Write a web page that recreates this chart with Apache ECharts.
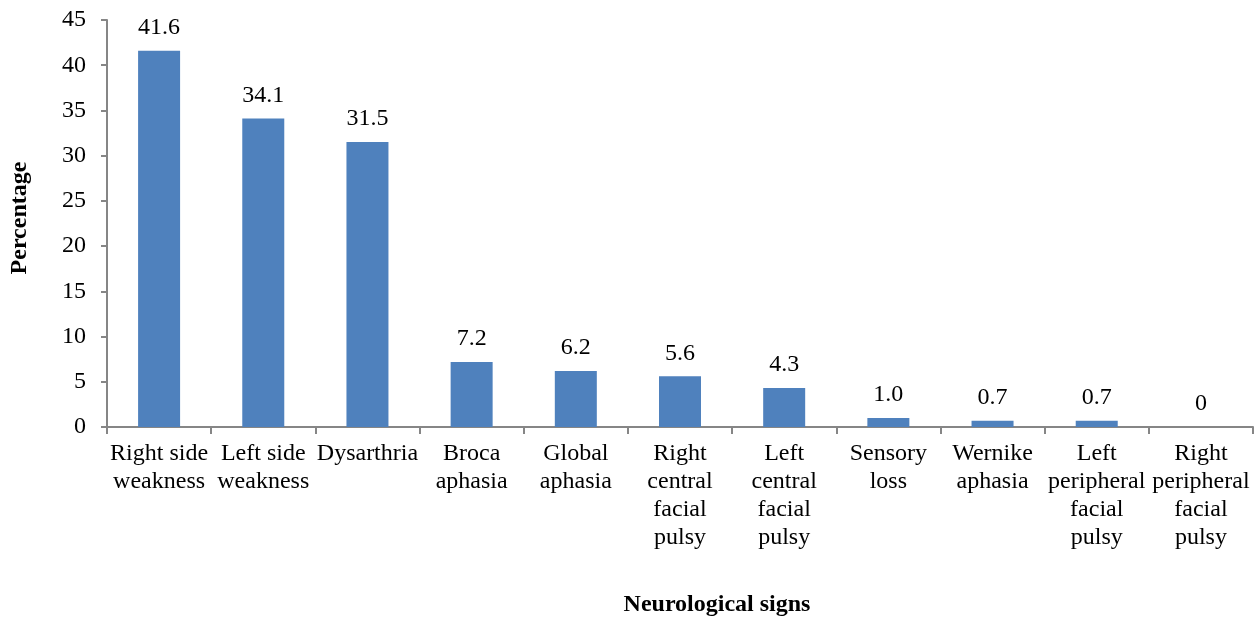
<!DOCTYPE html>
<html>
<head>
<meta charset="utf-8">
<script src="https://cdn.jsdelivr.net/npm/echarts@6/dist/echarts.min.js"></script>
<style>
  html, body { margin: 0; padding: 0; background: #fff; }
  #chart { width: 1258px; height: 619px; }
</style>
</head>
<body>
<div id="chart"></div>
<script>
// Neurological signs and their share of patients (%)
const categories = [
  'Right side\nweakness',
  'Left side\nweakness',
  'Dysarthria',
  'Broca\naphasia',
  'Global\naphasia',
  'Right\ncentral\nfacial\npulsy',
  'Left\ncentral\nfacial\npulsy',
  'Sensory\nloss',
  'Wernike\naphasia',
  'Left\nperipheral\nfacial\npulsy',
  'Right\nperipheral\nfacial\npulsy'
];
const percentages = [41.6, 34.1, 31.5, 7.2, 6.2, 5.6, 4.3, 1.0, 0.7, 0.7, 0];

const yAxisTitle = 'Percentage';
const xAxisTitle = 'Neurological signs';

const FONT = '"Liberation Serif", "Times New Roman", serif';
const AXIS_GREY = '#868686';

const chart = echarts.init(document.getElementById('chart'));
chart.setOption({
  animation: false,
  backgroundColor: '#ffffff',
  grid: { left: 107, right: 5, top: 20, bottom: 192, containLabel: false },
  xAxis: {
    type: 'category',
    data: categories,
    axisLine: { lineStyle: { color: AXIS_GREY, width: 2 } },
    axisTick: { show: true, length: 7, alignWithLabel: false, lineStyle: { color: AXIS_GREY, width: 2 } },
    axisLabel: {
      interval: 0,
      margin: 13,
      color: '#000',
      fontFamily: FONT,
      fontSize: 24,
      lineHeight: 28
    }
  },
  yAxis: {
    type: 'value',
    min: 0,
    max: 45,
    interval: 5,
    splitLine: { show: false },
    axisLine: { show: true, lineStyle: { color: AXIS_GREY, width: 2 } },
    axisTick: { show: true, length: 6, lineStyle: { color: AXIS_GREY, width: 2 } },
    axisLabel: {
      margin: 21,
      color: '#000',
      fontFamily: FONT,
      fontSize: 24
    }
  },
  series: [{
    type: 'bar',
    data: percentages,
    barWidth: 42,
    itemStyle: { color: '#4F81BD' },
    label: {
      show: true,
      position: 'top',
      distance: 11,
      color: '#000',
      fontFamily: FONT,
      fontSize: 24,
      formatter: p => (p.value === 0 ? '0' : p.value.toFixed(1))
    }
  }],
  graphic: [
    {
      type: 'text',
      x: 20,
      y: 218,
      rotation: Math.PI / 2,
      style: {
        text: yAxisTitle,
        fill: '#000',
        font: 'bold 24px ' + FONT,
        textAlign: 'center',
        textVerticalAlign: 'middle'
      }
    },
    {
      type: 'text',
      x: 717,
      y: 605,
      style: {
        text: xAxisTitle,
        fill: '#000',
        font: 'bold 24px ' + FONT,
        textAlign: 'center',
        textVerticalAlign: 'middle'
      }
    }
  ]
});
</script>
</body>
</html>
